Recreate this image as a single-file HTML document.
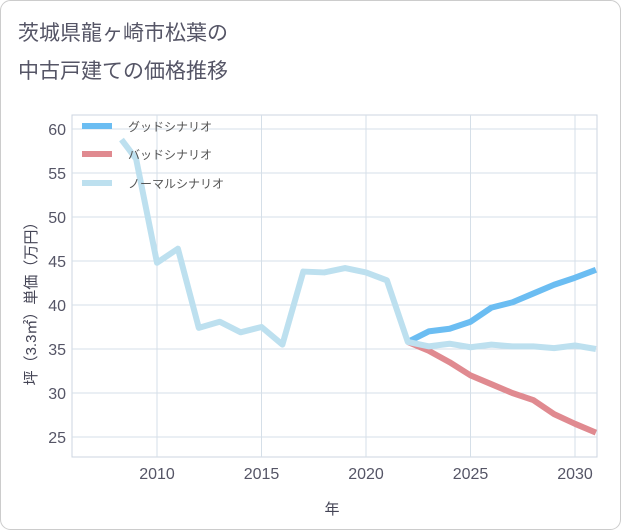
<!DOCTYPE html>
<html><head><meta charset="utf-8"><style>
body{margin:0;background:#fff;}
svg{display:block;font-family:"Liberation Sans","Noto Sans CJK JP",sans-serif;}
</style></head><body>
<svg width="621" height="530">
<rect x="0.5" y="0.5" width="620" height="529" rx="10" fill="#fff" stroke="#ccc"/>
<text x="18" y="40" font-size="21" fill="#556">茨城県龍ヶ崎市松葉の</text>
<text x="18" y="78" font-size="21" fill="#556">中古戸建ての価格推移</text>
<g id="grid"></g>
<g id="series"></g>
<g id="axes"></g>
<text x="332" y="514" font-size="15" fill="#445" text-anchor="middle">年</text>
<text transform="translate(36,300) rotate(-90)" font-size="15" fill="#445" text-anchor="middle">坪（3.3㎡）単価（万円）</text>
<g>
<line x1="82" y1="126" x2="112" y2="126" stroke="#6bbdf2" stroke-width="6"/>
<text x="128" y="131" font-size="12" fill="#555">グッドシナリオ</text>
<line x1="82" y1="154" x2="112" y2="154" stroke="#e08a90" stroke-width="6"/>
<text x="128" y="159" font-size="12" fill="#555">バッドシナリオ</text>
<line x1="82" y1="183" x2="112" y2="183" stroke="#bde0ef" stroke-width="6"/>
<text x="128" y="188" font-size="12" fill="#555">ノーマルシナリオ</text>
</g>
</svg>
<script>
const normalYears=[2008.3,2009,2010,2011,2012,2013,2014,2015,2016,2017,2018,2019,2020,2021,2022,2023,2024,2025,2026,2027,2028,2029,2030,2031];
const normalValues=[58.8,56.6,44.8,46.4,37.4,38.1,36.9,37.5,35.5,43.8,43.7,44.2,43.7,42.8,35.8,35.3,35.6,35.2,35.5,35.3,35.3,35.1,35.4,35.0];
const futureYears=[2022,2023,2024,2025,2026,2027,2028,2029,2030,2031];
const goodValues=[35.8,37.0,37.3,38.1,39.7,40.3,41.3,42.3,43.1,44.0];
const badValues=[35.8,34.8,33.5,32.0,31.0,30.0,29.2,27.6,26.5,25.5];
const xTicks=[2010,2015,2020,2025,2030];
const yTicks=[25,30,35,40,45,50,55,60];
const L=72,R=597,T=115,B=457;
const xs=yr=>157+(yr-2010)*20.9;
const ys=v=>437-(v-25)*8.8;
const NS='http://www.w3.org/2000/svg';
function mk(tag,attrs,parent){const e=document.createElementNS(NS,tag);for(const k in attrs)e.setAttribute(k,attrs[k]);parent.appendChild(e);return e;}
const grid=document.getElementById('grid'),axes=document.getElementById('axes'),ser=document.getElementById('series');
mk('rect',{x:L,y:T,width:R-L,height:B-T,fill:'none',stroke:'#ccd6e0'},grid);
yTicks.forEach(v=>{
 const l=mk('line',{x1:L,x2:R,y1:ys(v),y2:ys(v),stroke:'#d5dfe8'},grid);
 
 
 const t=mk('text',{x:L-6,y:ys(v)+6,'font-size':16,fill:'#556','text-anchor':'end'},axes);
 t.textContent=v;
 
 
});
xTicks.forEach(v=>{
 const l=mk('line',{x1:xs(v),x2:xs(v),y1:T,y2:B,stroke:'#d5dfe8'},grid);
 
 
 const t=mk('text',{x:xs(v),y:B+22,'font-size':16,fill:'#556','text-anchor':'middle'},axes);
 t.textContent=v;
 
 
});
function line(years,vals,color,name){
 const p=mk('polyline',{points:years.map((y,i)=>xs(y)+','+ys(vals[i])).join(' '),fill:'none',stroke:color,'stroke-width':6,'stroke-linejoin':'round'},ser);
 
 
}
line(futureYears,badValues,'#e08a90','bad-scenario-line');
line(futureYears,goodValues,'#6bbdf2','good-scenario-line');
line(normalYears,normalValues,'#bde0ef','normal-scenario-line');
</script>
</body></html>
